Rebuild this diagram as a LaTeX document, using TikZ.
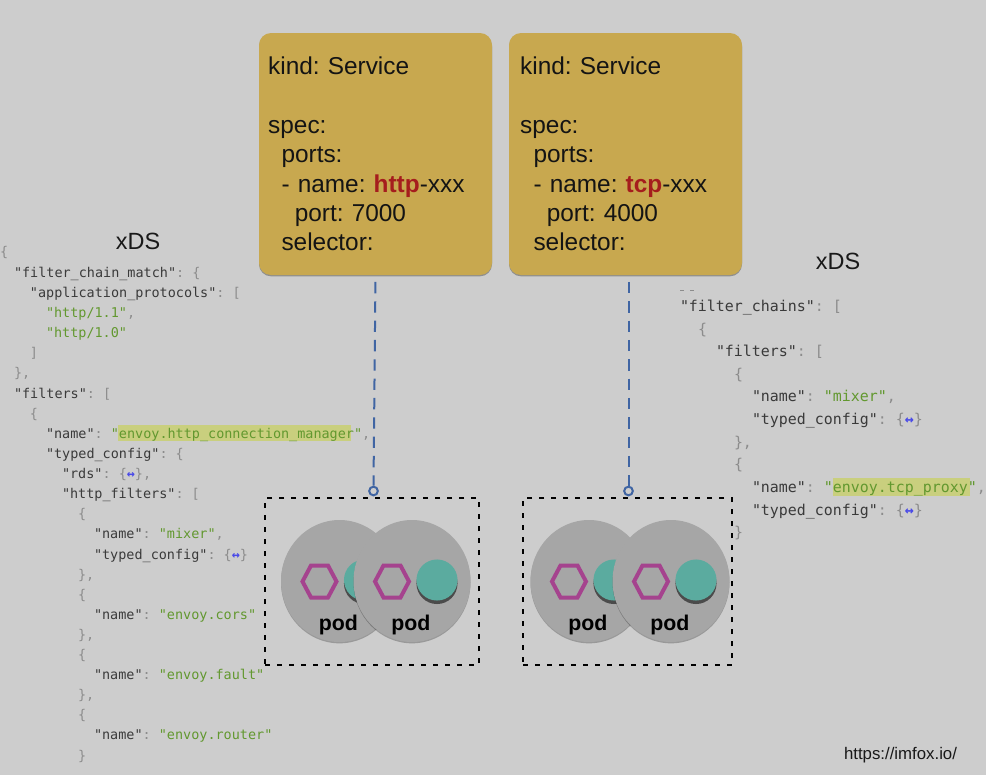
\documentclass[tikz,border=0pt]{standalone}
\usepackage{fontspec}
\setmainfont{Liberation Sans}
\newfontfamily\jsonfont{DejaVu Sans Mono}
\usetikzlibrary{shapes.geometric,shadows}
\frenchspacing
\definecolor{pagebg}{HTML}{CDCDCD}
\definecolor{svcfill}{HTML}{C8A84F}
\definecolor{svcred}{HTML}{A51D1D}
\definecolor{linkblue}{HTML}{4065A3}
\definecolor{podgray}{HTML}{A6A6A6}
\definecolor{hexpurple}{HTML}{A5438E}
\definecolor{tealc}{HTML}{5BAB9F}
\definecolor{jkey}{HTML}{3A3A3A}
\definecolor{jpun}{HTML}{8C8C8C}
\definecolor{jstr}{HTML}{62982F}
\definecolor{jarr}{HTML}{4A4AE8}
\definecolor{jhigh}{HTML}{C9CF7E}
\newcounter{jlinec}
\newcommand{\jk}[1]{\textcolor{jkey}{#1}}
\newcommand{\jp}[1]{\textcolor{jpun}{#1}}
\newcommand{\js}[1]{\textcolor{jstr}{#1}}
\newcommand{\ja}{\textcolor{jarr}{\bfseries ↔}}
\newcommand{\jl}[4]{\stepcounter{jlinec}\node[jsonline,font=\jsonfont\frenchspacing\fontsize{#1}{#1}\selectfont] (json\thejlinec) at (#2,#3+5) {#4};}
\newcommand{\jL}[3]{\jl{10.1}{#1}{#2}{#3}}
\newcommand{\jR}[3]{\jl{11.2}{#1}{#2}{#3}}
\newcommand{\podunit}[2]{%
  \node[podshape] (#2) at (#1,581) {};
  \draw[hexline] (#1-37,581.5) -- (#1-28.5,565.5) -- (#1-11.5,565.5) -- (#1-3,581.5) -- (#1-11.5,597.5) -- (#1-28.5,597.5) -- cycle;
  \fill[black!55!podgray] (#1+25,583.5) circle[radius=15.4pt];
  \node[tealdot] (#2teal) at (#1+25,580) {};
  \node[podlabel] (#2label) at (#1-1.2,624.5) {pod};
}
\tikzset{
  x=0.75pt,y=-0.75pt,
  jsonline/.style={anchor=base west,inner sep=0pt,outer sep=0pt},
  svcbox/.style={rectangle,rounded corners=9pt,fill=svcfill,minimum width=174.75pt,minimum height=181.5pt,
    text width=161pt,align=left,inner sep=0pt,text=black!92,
    font=\frenchspacing\fontsize{18.3}{22}\selectfont,
    drop shadow={shadow xshift=0pt,shadow yshift=-1pt,opacity=.3,fill=black}},
  portdot/.style={circle,draw=linkblue,line width=1.5pt,minimum size=6.5pt,inner sep=0pt},
  link/.style={draw=linkblue,line width=1.5pt,dash pattern=on 8.5pt off 6pt},
  podbox/.style={rectangle,draw=black,line width=2pt,dash pattern=on 3.5pt off 5.5pt,minimum height=125.25pt,inner sep=0pt},
  podshape/.style={ellipse,fill=podgray,minimum width=87.75pt,minimum height=91.5pt,inner sep=0pt,
    drop shadow={shadow xshift=0pt,shadow yshift=-1pt,opacity=.25,fill=black}},
  hexline/.style={draw=hexpurple,line width=3pt,line join=miter},
  tealdot/.style={circle,fill=tealc,minimum size=30.8pt,inner sep=0pt},
  podlabel/.style={font=\bfseries\fontsize{16}{18}\selectfont,text=black,inner sep=0pt},
  xdslabel/.style={font=\fontsize{17.6}{20}\selectfont,text=black!90,inner sep=0pt},
}
\begin{document}
\begin{tikzpicture}
\useasboundingbox (0,0) rectangle (986,775);
\fill[pagebg] (0,0) rectangle (986,775);

% JSON highlights
\fill[jhigh] (118,425) rectangle (351,441);
\fill[jhigh] (833,478) rectangle (970,496);

% left JSON
\jL{0}{251}{\jp{\{}}
\jL{14}{272}{\jk{"filter\_chain\_match"}\jp{: \{}}
\jL{30}{292}{\jk{"application\_protocols"}\jp{: [}}
\jL{46}{312}{\js{"http/1.1"}\jp{,}}
\jL{46}{332}{\js{"http/1.0"}}
\jL{30}{352}{\jp{]}}
\jL{14}{372}{\jp{\},}}
\jL{14}{393}{\jk{"filters"}\jp{: [}}
\jL{30}{413}{\jp{\{}}
\jL{46}{433}{\jk{"name"}\jp{: }\js{"envoy.http\_connection\_manager"}\jp{,}}
\jL{46}{453}{\jk{"typed\_config"}\jp{: \{}}
\jL{62}{473}{\jk{"rds"}\jp{: \{}\ja\jp{\},}}
\jL{62}{493}{\jk{"http\_filters"}\jp{: [}}
\jL{78}{513}{\jp{\{}}
\jL{94}{533}{\jk{"name"}\jp{: }\js{"mixer"}\jp{,}}
\jL{94}{554}{\jk{"typed\_config"}\jp{: \{}\ja\jp{\}}}
\jL{78}{574}{\jp{\},}}
\jL{78}{594}{\jp{\{}}
\jL{94}{614}{\jk{"name"}\jp{: }\js{"envoy.cors"}}
\jL{78}{634}{\jp{\},}}
\jL{78}{654}{\jp{\{}}
\jL{94}{674}{\jk{"name"}\jp{: }\js{"envoy.fault"}}
\jL{78}{694}{\jp{\},}}
\jL{78}{714}{\jp{\{}}
\jL{94}{734}{\jk{"name"}\jp{: }\js{"envoy.router"}}
\jL{78}{755}{\jp{\}}}

% right JSON
\draw[jpun,line width=0.6pt] (680,290) -- (684,290) (690,290) -- (694,290);
\jR{680}{306}{\jk{"filter\_chains"}\jp{: [}}
\jR{698}{329}{\jp{\{}}
\jR{716}{351}{\jk{"filters"}\jp{: [}}
\jR{734}{374}{\jp{\{}}
\jR{752}{396}{\jk{"name"}\jp{: }\js{"mixer"}\jp{,}}
\jR{752}{419}{\jk{"typed\_config"}\jp{: \{}\ja\jp{\}}}
\jR{734}{442}{\jp{\},}}
\jR{734}{464}{\jp{\{}}
\jR{752}{487}{\jk{"name"}\jp{: }\js{"envoy.tcp\_proxy"}\jp{,}}
\jR{752}{510}{\jk{"typed\_config"}\jp{: \{}\ja\jp{\}}}
\jR{734}{532}{\jp{\}}}

% services
\node[svcbox] (svcA) at (375.5,154) {kind: Service\\[22pt]spec:\\\hspace{10pt}ports:\\\hspace{10pt}- name: \textcolor{svcred}{\bfseries http}-xxx\\\hspace{20pt}port: 7000\\\hspace{10pt}selector:};
\node[svcbox] (svcB) at (625.5,154) {\hspace{1.5pt}kind: Service\\[22pt]\hspace{1.5pt}spec:\\\hspace{11.5pt}ports:\\\hspace{11.5pt}- name: \textcolor{svcred}{\bfseries tcp}-xxx\\\hspace{21.5pt}port: 4000\\\hspace{11.5pt}selector:};

\node[xdslabel] (xdsL) at (138,241) {xDS};
\node[xdslabel] (xdsR) at (838,261) {xDS};

% pod groups
\node[podbox,minimum width=160.5pt] (groupA) at (372,581.5) {};
\node[podbox,minimum width=156.75pt] (groupB) at (627.5,581.5) {};
\podunit{339.5}{podA}
\podunit{412}{podB}
\podunit{589}{podC}
\podunit{671}{podD}

% connectors
\node[portdot] (portA) at (373.5,491) {};
\node[portdot] (portB) at (628.5,491) {};
\draw[link,shorten <=5pt] (svcA.south) -- (portA.north);
\draw[link,shorten <=5pt] (portB |- svcB.south) -- (portB.north);

\node[inner sep=0pt,font=\fontsize{12.6}{14}\selectfont,text=black!90] (url) at (900.5,755) {https://imfox.io/};
\end{tikzpicture}
\end{document}
